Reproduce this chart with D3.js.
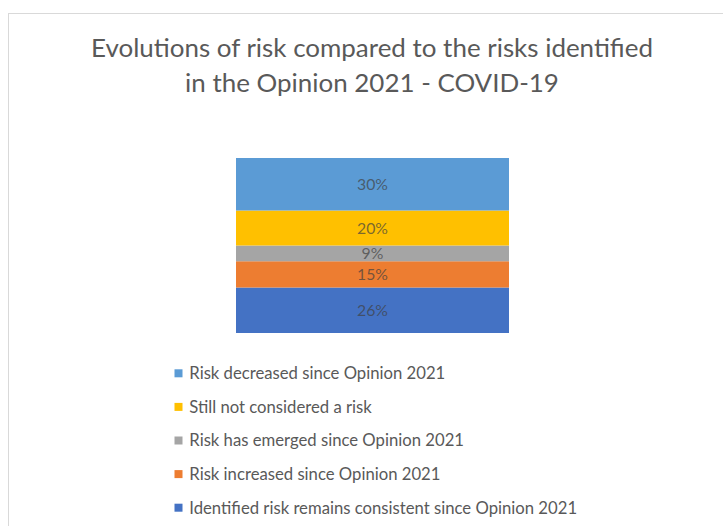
<!DOCTYPE html>
<html>
<head>
<meta charset="utf-8">
<script src="https://cdn.jsdelivr.net/npm/d3@7"></script>
<style>
  html, body { margin: 0; padding: 0; background: #ffffff; }
  svg { display: block; }
</style>
</head>
<body>
<svg id="chart" width="723" height="526"></svg>
<script>
// ---- data ----
const titleLines = ["Evolutions of risk compared to the risks identified", "in the Opinion 2021 - COVID-19"];
const barCategory = ["COVID-19"];
const seriesNames = [
  "Identified risk remains consistent since Opinion 2021",
  "Risk increased since Opinion 2021",
  "Risk has emerged since Opinion 2021",
  "Still not considered a risk",
  "Risk decreased since Opinion 2021"
];
const seriesValues = [26, 15, 9, 20, 30];
const seriesColors = ["#4472C4", "#ED7D31", "#A5A5A5", "#FFC000", "#5B9BD5"];

// ---- drawing ----
const FONT = "Lato, 'Open Sans', 'Liberation Sans', sans-serif";
const svg = d3.select("#chart");

// chart border
svg.append("rect")
  .attr("x", 8.5).attr("y", 13.5)
  .attr("width", 730).attr("height", 530)
  .attr("fill", "#ffffff")
  .attr("stroke", "#d9d9d9").attr("stroke-width", 1);

function fitFont(sel, targetWidth, startSize) {
  sel.style("font-size", startSize + "px");
  const w = sel.node().getComputedTextLength();
  const size = startSize * targetWidth / w;
  sel.style("font-size", size + "px");
  return size;
}

// title
const t1 = svg.append("text")
  .attr("x", 372).attr("y", 57)
  .attr("text-anchor", "middle")
  .attr("fill", "#595959")
  .style("font-family", FONT)
  .text(titleLines[0]);
const titleSize = fitFont(t1, 562, 24);
svg.append("text")
  .attr("x", 372).attr("y", 92)
  .attr("text-anchor", "middle")
  .attr("fill", "#595959")
  .style("font-family", FONT)
  .style("font-size", titleSize + "px")
  .text(titleLines[1]);

// scales
const x = d3.scaleBand().domain(barCategory).range([236, 509]).padding(0);
const y = d3.scaleLinear().domain([0, 100]).range([333, 158]);

// stacked data
const rows = [];
let acc = 0;
seriesNames.forEach((name, i) => {
  rows.push({ name, value: seriesValues[i], color: seriesColors[i], y0: acc, y1: acc + seriesValues[i] });
  acc += seriesValues[i];
});

const g = svg.append("g");
g.selectAll("rect.seg").data(rows).enter().append("rect")
  .attr("class", "seg")
  .attr("x", x("COVID-19"))
  .attr("width", x.bandwidth())
  .attr("y", d => y(d.y1))
  .attr("height", d => y(d.y0) - y(d.y1))
  .attr("fill", d => d.color);

const labels = g.selectAll("text.lbl").data(rows).enter().append("text")
  .attr("class", "lbl")
  .attr("x", x("COVID-19") + x.bandwidth() / 2)
  .attr("y", d => (y(d.y0) + y(d.y1)) / 2)
  .attr("dy", "0.35em")
  .attr("text-anchor", "middle")
  .attr("fill", "#404040")
  .attr("fill-opacity", 0.7)
  .style("font-family", FONT)
  .text(d => d.value + "%");
const lblSize = fitFont(d3.select(labels.nodes()[4]), 31, 15);
labels.style("font-size", lblSize + "px");

// legend (reverse order, top to bottom)
const legendRows = rows.slice().reverse();
const lg = svg.append("g");
const items = lg.selectAll("g.item").data(legendRows).enter().append("g")
  .attr("class", "item")
  .attr("transform", (d, i) => `translate(0, ${373.3 + i * 33.6})`);
items.append("rect")
  .attr("x", 174.5).attr("y", -4)
  .attr("width", 8).attr("height", 8)
  .attr("fill", d => d.color);
const ltexts = items.append("text")
  .attr("x", 189.3).attr("y", 0)
  .attr("dy", "0.35em")
  .attr("fill", "#595959")
  .style("font-family", FONT)
  .text(d => d.name);
const legSize = fitFont(d3.select(ltexts.nodes()[4]), 388, 16);
ltexts.style("font-size", legSize + "px");
</script>
</body>
</html>
